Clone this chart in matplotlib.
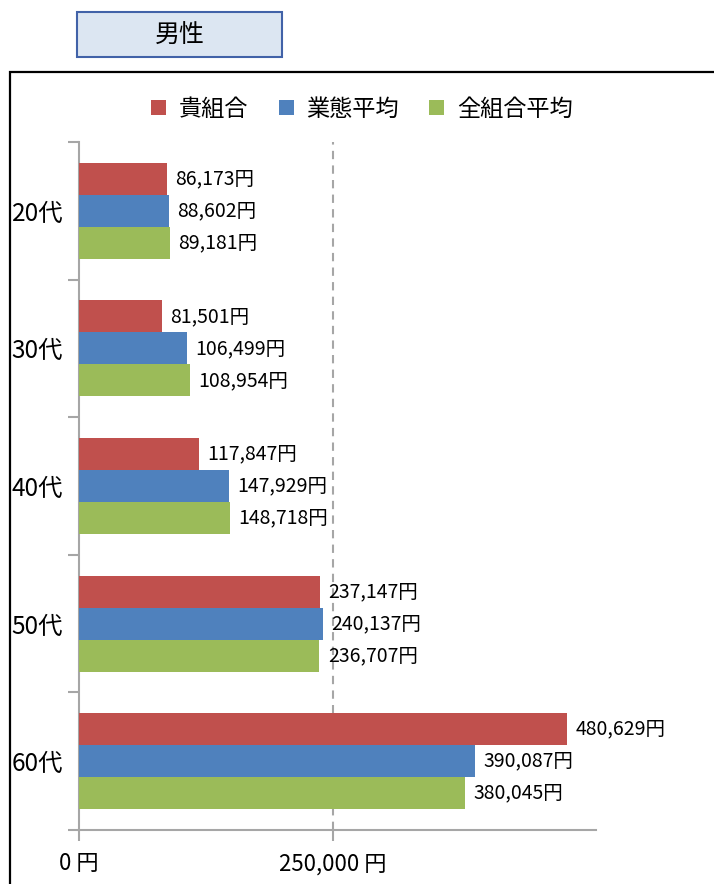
import matplotlib
matplotlib.use("Agg")
import matplotlib.pyplot as plt
from matplotlib.patches import Patch, Rectangle
import numpy as np

plt.rcParams["font.family"] = ["Noto Sans CJK JP", "DejaVu Sans"]

categories = ["20代", "30代", "40代", "50代", "60代"]
series_names = ["貴組合", "業態平均", "全組合平均"]
kumiai = [86173, 81501, 117847, 237147, 480629]
gyotai = [88602, 106499, 147929, 240137, 390087]
zen_kumiai = [89181, 108954, 148718, 236707, 380045]
colors = ["#C0504D", "#4F81BD", "#9BBB59"]
x_ticks = [0, 250000]
x_tick_labels = ["0 円", "250,000 円"]
title = "男性"

W, H = 714, 884
AXIS_GRAY = "#a6a6a6"

fig = plt.figure(figsize=(W / 100, H / 100), dpi=100)

# outer frame (runs off the right/bottom edge like the source)
fig.add_artist(Rectangle((10 / W, -0.1), 1.0, (H - 72) / H + 0.1,
                         transform=fig.transFigure, fill=False,
                         edgecolor="black", linewidth=1.6))

# title box
fig.add_artist(Rectangle((77 / W, 1 - 57 / H), 205 / W, 45 / H,
                         transform=fig.transFigure, facecolor="#DCE6F2",
                         edgecolor="#4162A8", linewidth=1.5))
fig.text(179.5 / W, 1 - 36 / H, title, ha="center", va="center", fontsize=18)

ax = fig.add_axes([79 / W, 54 / H, 517 / W, 688 / H])

series = [kumiai, gyotai, zen_kumiai]
bar_h = 0.233
offsets = [-bar_h, 0, bar_h]
y = np.arange(len(categories))

for vals, off, col, name in zip(series, offsets, colors, series_names):
    bars = ax.barh(y + off, vals, height=bar_h, color=col, label=name, zorder=3)
    for b, v in zip(bars, vals):
        ax.annotate(f"{v:,}円", (b.get_width(), b.get_y() + b.get_height() / 2),
                    xytext=(6, 0), textcoords="offset points",
                    ha="left", va="center", fontsize=14, zorder=4)

ax.axvline(250000, color=AXIS_GRAY, linewidth=1.5, linestyle=(0, (4, 3)), zorder=1)

ax.set_xlim(0, 509000)
ax.set_ylim(len(categories) - 0.5, -0.5)

ax.set_yticks(y)
ax.set_yticklabels(categories, fontsize=17.5)
ax.set_yticks(np.arange(-0.5, len(categories), 1), minor=True)
ax.tick_params(axis="y", which="major", length=0, pad=11.5)
ax.tick_params(axis="y", which="minor", length=8, width=1.5, color=AXIS_GRAY)

ax.set_xticks(x_ticks)
ax.set_xticklabels(x_tick_labels, fontsize=16)
ax.tick_params(axis="x", length=8, width=1.5, color=AXIS_GRAY, pad=8)

for side in ("top", "right"):
    ax.spines[side].set_visible(False)
for side in ("left", "bottom"):
    ax.spines[side].set_color(AXIS_GRAY)
    ax.spines[side].set_linewidth(1.5)

handles = [Patch(facecolor=c, edgecolor="none") for c in colors]
fig.legend(handles, series_names, loc="center", ncol=3,
           bbox_to_anchor=(362 / W, 1 - 109 / H), frameon=False,
           fontsize=16.7, handlelength=0.65, handleheight=0.65,
           handletextpad=0.55, columnspacing=1.3)

fig.savefig("out.png", dpi=100)
